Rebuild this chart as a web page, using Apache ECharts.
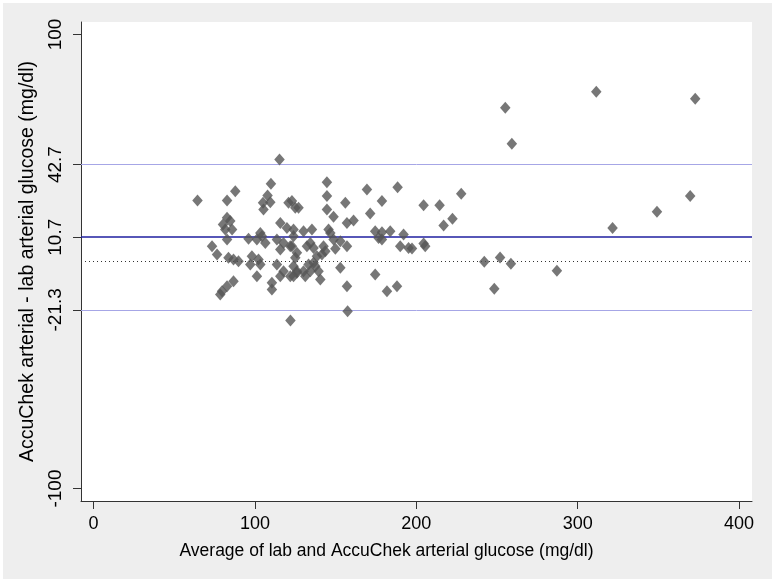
<!DOCTYPE html>
<html>
<head>
<meta charset="utf-8">
<script src="https://cdn.jsdelivr.net/npm/echarts@6/dist/echarts.min.js"></script>
<style>
  html, body { margin: 0; padding: 0; background: #ffffff; }
  #bg { position: absolute; left: 3px; top: 3px; width: 769px; height: 576px; background: #eeeeee; }
  #chart { position: absolute; left: 0; top: 0; width: 775px; height: 583px; }
</style>
</head>
<body>
<div id="bg"></div>
<div id="chart"></div>
<script>
// Average of lab and AccuChek arterial glucose (mg/dl)
const avgGlucose = [
  115.2, 64.4, 87.8, 82.7, 109.9, 107.8, 105.0, 105.3, 109.5, 120.8, 125.0,
  82.7, 84.7, 80.2, 81.6, 85.8, 82.7, 96.0, 103.3, 101.2, 106.4, 104.3,
  73.4, 76.5, 83.6, 89.8, 86.7, 98.1, 102.2, 103.3, 97.1, 101.2, 110.5, 110.5,
  86.7, 82.7, 79.6, 78.5, 122.0,
  115.7, 119.8, 123.9, 113.6, 117.7, 121.9, 115.7, 126.0, 113.6, 117.7, 121.9, 126.0, 115.7, 123.9,
  144.6, 144.6, 144.6, 127.0, 122.9, 148.7, 156.0, 169.4, 188.4, 178.7, 171.4, 157.0, 161.1,
  135.3, 130.1, 145.6, 146.7, 174.5, 178.7, 183.8, 178.7, 176.6, 192.1, 190.0, 195.2,
  148.7, 152.9, 157.0, 149.8, 134.3, 136.3, 132.2, 142.5, 143.6, 141.5, 123.9, 122.9, 125.0,
  138.4, 136.3, 133.2, 134.3, 137.4, 139.4, 130.1, 126.0, 123.9, 131.2, 140.5, 152.9, 157.0,
  174.5, 181.8, 188.0, 157.4,
  255.1, 259.2, 227.8, 204.5, 214.4, 222.4, 216.9, 197.3, 204.5, 205.5, 242.1, 251.9, 258.6, 248.3, 287.1,
  311.5, 372.8, 321.6, 349.1, 369.7
];
// AccuChek arterial - lab arterial glucose (mg/dl)
const diffGlucose = [
  44.9, 26.9, 31.0, 26.9, 34.2, 29.1, 25.9, 22.9, 26.1, 25.9, 23.7,
  19.3, 17.8, 16.3, 14.1, 14.1, 9.7, 10.0, 12.6, 9.7, 8.2, 11.1,
  6.7, 3.1, 1.6, 0.1, 0.9, 2.3, 0.9, -1.3, -1.3, -6.5, -9.4, -12.3,
  -8.7, -10.9, -13.1, -14.5, -26.0,
  17.0, 14.8, 14.1, 9.7, 8.2, 6.7, 5.3, 3.8, -1.3, -4.3, -6.5, -5.0, -6.5, -2.1,
  34.9, 28.8, 22.9, 23.7, 26.6, 19.7, 25.9, 31.7, 32.7, 26.6, 21.1, 17.0, 18.1,
  14.1, 13.3, 14.1, 12.6, 13.3, 12.9, 13.3, 9.7, 10.4, 11.9, 6.7, 6.0,
  9.7, 8.9, 6.7, 5.6, 8.2, 6.0, 6.7, 6.7, 4.5, 3.1, 11.1, 6.7, 1.6,
  2.3, -0.6, -1.3, -4.3, -2.1, -4.3, -4.3, -4.3, -6.5, -6.5, -7.9, -2.8, -10.9,
  -5.7, -13.1, -10.9, -21.9,
  67.7, 51.9, 29.8, 24.8, 24.8, 18.8, 15.9, 5.7, 7.9, 6.7, -0.1, 1.8, -1.0, -12.0, -4.1,
  74.8, 71.7, 14.8, 21.9, 28.8
];
const meanDiff = 10.7;
const upperLoA = 42.7;
const lowerLoA = -21.3;
const xTicks = [0, 100, 200, 300, 400];
const yTicks = [-100, -21.3, 10.7, 42.7, 100];

const points = avgGlucose.map((v, i) => [v, diffGlucose[i]]);
const font = 'Liberation Sans, Arial, sans-serif';

const chart = echarts.init(document.getElementById('chart'), null, { renderer: 'canvas' });
chart.setOption({
  backgroundColor: 'transparent',
  animation: false,
  grid: {
    left: 81, right: 23, top: 22, bottom: 82,
    show: true, backgroundColor: '#ffffff', borderWidth: 0
  },
  xAxis: {
    type: 'value', min: -7.8, max: 408,
    name: 'Average of lab and AccuChek arterial glucose (mg/dl)',
    nameLocation: 'middle', nameGap: 41,
    nameTextStyle: { fontFamily: font, fontSize: 17.5, color: '#000', padding: [0, 60, 0, 0] },
    splitLine: { show: false },
    axisLine: { show: true, onZero: false, lineStyle: { color: '#333', width: 1 } },
    axisTick: { show: true, length: 8, customValues: xTicks, lineStyle: { color: '#333' } },
    axisLabel: { customValues: xTicks, fontFamily: font, fontSize: 18, color: '#000', margin: 14,
      showMinLabel: true, showMaxLabel: true }
  },
  yAxis: {
    type: 'value', min: -105.5, max: 105.5,
    name: 'AccuChek arterial - lab arterial glucose (mg/dl)',
    nameLocation: 'middle', nameGap: 36, nameRotate: 90,
    nameTextStyle: { fontFamily: font, fontSize: 19.5, color: '#000' },
    splitLine: { show: false },
    axisLine: { show: true, onZero: false, lineStyle: { color: '#333', width: 1 } },
    axisTick: { show: true, length: 8, customValues: yTicks, lineStyle: { color: '#333' } },
    axisLabel: { customValues: yTicks, rotate: 90, fontFamily: font, fontSize: 19, color: '#000', margin: 16,
      formatter: v => String(v) }
  },
  series: [
    {
      type: 'scatter',
      data: points,
      symbol: 'diamond',
      symbolSize: [10.5, 12],
      itemStyle: { color: '#555555' },
      z: 5,
      markLine: {
        silent: true,
        symbol: 'none',
        label: { show: false },
        data: [
          { yAxis: upperLoA, lineStyle: { color: '#a6a6e6', width: 1, type: 'solid' } },
          { yAxis: meanDiff, lineStyle: { color: '#1f1fa0', width: 1.6, type: 'solid' } },
          { yAxis: 0, lineStyle: { color: '#333333', width: 1, type: [1, 3] } },
          { yAxis: lowerLoA, lineStyle: { color: '#a6a6e6', width: 1, type: 'solid' } }
        ]
      }
    }
  ]
});
</script>
</body>
</html>
